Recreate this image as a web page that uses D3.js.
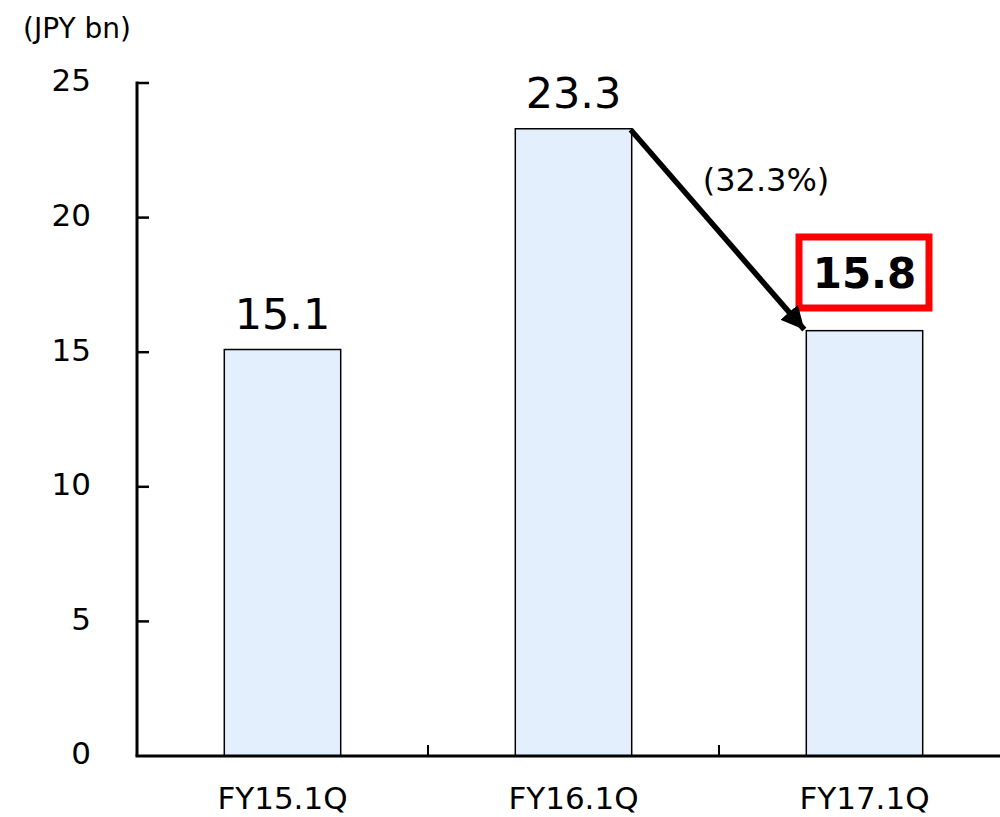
<!DOCTYPE html>
<html>
<head>
<meta charset="utf-8">
<script src="https://cdn.jsdelivr.net/npm/d3@7"></script>
<style>
  body { margin: 0; background: #fff; }
  text { font-family: "DejaVu Sans", Verdana, sans-serif; fill: #000; }
</style>
</head>
<body>
<svg id="chart" width="1000" height="817"></svg>
<script>
var categories = ['FY15.1Q', 'FY16.1Q', 'FY17.1Q'];
var values = [15.1, 23.3, 15.8];
var yTicks = [0, 5, 10, 15, 20, 25];
var unitLabel = '(JPY bn)';
var changeLabel = '(32.3%)';

var svg = d3.select('#chart');

var x = d3.scaleBand()
  .domain(categories)
  .range([137, 1010]);

var y = d3.scaleLinear()
  .domain([0, 25])
  .range([756, 83]);

var barW = x.bandwidth() * 0.4;

// arrow marker
svg.append('defs').append('marker')
  .attr('id', 'head')
  .attr('viewBox', '0 0 10 10')
  .attr('refX', 10)
  .attr('refY', 5)
  .attr('markerWidth', 4.2)
  .attr('markerHeight', 4.2)
  .attr('markerUnits', 'strokeWidth')
  .attr('orient', 'auto')
  .append('path')
    .attr('d', 'M0,0 L10,5 L0,10 Z')
    .attr('fill', '#000');

// bars
svg.selectAll('rect.bar')
  .data(values)
  .enter()
  .append('rect')
    .attr('class', 'bar')
    .attr('x', function(d, i) { return x(categories[i]) + (x.bandwidth() - barW) / 2; })
    .attr('y', function(d) { return y(d); })
    .attr('width', barW)
    .attr('height', function(d) { return y(0) - y(d); })
    .attr('fill', '#e3effd')
    .attr('stroke', '#000')
    .attr('stroke-width', 1.5);

// y axis
var yAxis = svg.append('g');
yAxis.append('line')
  .attr('x1', 137).attr('x2', 137)
  .attr('y1', y(25) - 1.5).attr('y2', y(0))
  .attr('stroke', '#000').attr('stroke-width', 3);
yAxis.selectAll('line.tick')
  .data(yTicks.filter(function(t) { return t > 0; }))
  .enter().append('line')
    .attr('class', 'tick')
    .attr('x1', 137).attr('x2', 149)
    .attr('y1', function(d) { return y(d); })
    .attr('y2', function(d) { return y(d); })
    .attr('stroke', '#000').attr('stroke-width', 2.5);
yAxis.selectAll('text')
  .data(yTicks)
  .enter().append('text')
    .attr('x', 91)
    .attr('y', function(d) { return y(d); })
    .attr('dy', '0.27em')
    .attr('text-anchor', 'end')
    .style('font-size', '31px')
    .text(function(d) { return d; });

// x axis
var xAxis = svg.append('g');
xAxis.append('line')
  .attr('x1', 135.5).attr('x2', 1010)
  .attr('y1', y(0)).attr('y2', y(0))
  .attr('stroke', '#000').attr('stroke-width', 3);
xAxis.selectAll('line.tick')
  .data(categories.slice(1))
  .enter().append('line')
    .attr('class', 'tick')
    .attr('x1', function(d) { return x(d); })
    .attr('x2', function(d) { return x(d); })
    .attr('y1', y(0)).attr('y2', y(0) - 11)
    .attr('stroke', '#000').attr('stroke-width', 2);
xAxis.selectAll('text')
  .data(categories)
  .enter().append('text')
    .attr('x', function(d) { return x(d) + x.bandwidth() / 2; })
    .attr('y', 809)
    .attr('text-anchor', 'middle')
    .style('font-size', '31px')
    .text(function(d) { return d; });

// unit label
svg.append('text')
  .attr('x', 77)
  .attr('y', 38)
  .attr('text-anchor', 'middle')
  .style('font-size', '28px')
  .text(unitLabel);

// value labels (last one highlighted)
var last = values.length - 1;
svg.selectAll('text.val')
  .data(values.slice(0, last))
  .enter().append('text')
    .attr('class', 'val')
    .attr('x', function(d, i) { return x(categories[i]) + x.bandwidth() / 2; })
    .attr('y', function(d) { return y(d) - 21; })
    .attr('text-anchor', 'middle')
    .style('font-size', '43px')
    .text(function(d) { return d.toFixed(1); });

var cx = x(categories[last]) + x.bandwidth() / 2;
svg.append('rect')
  .attr('x', 799)
  .attr('y', 237)
  .attr('width', 130)
  .attr('height', 71)
  .attr('fill', '#fff')
  .attr('stroke', '#ff0000')
  .attr('stroke-width', 7);
svg.append('text')
  .attr('x', cx)
  .attr('y', 288)
  .attr('text-anchor', 'middle')
  .style('font-size', '42px')
  .style('font-weight', 'bold')
  .text(values[last].toFixed(1));

// change arrow
var x1 = x(categories[1]) + (x.bandwidth() + barW) / 2;
var x2 = x(categories[2]) + (x.bandwidth() - barW) / 2;
svg.append('line')
  .attr('x1', x1 - 1).attr('y1', y(values[1]) + 1)
  .attr('x2', x2 - 2).attr('y2', y(values[2]) - 1)
  .attr('stroke', '#000')
  .attr('stroke-width', 5.5)
  .attr('marker-end', 'url(#head)');

svg.append('text')
  .attr('x', 766)
  .attr('y', 191)
  .attr('text-anchor', 'middle')
  .style('font-size', '32px')
  .text(changeLabel);
</script>
</body>
</html>
